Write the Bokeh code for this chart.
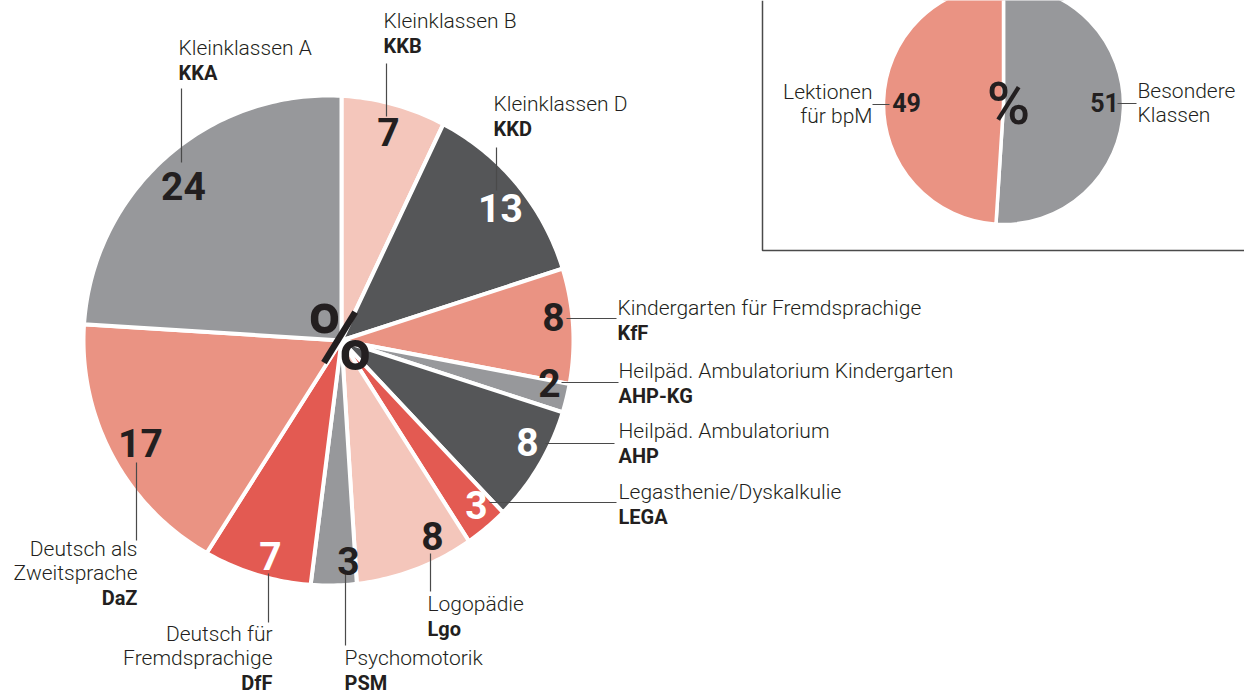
import math
from bokeh.plotting import figure
from bokeh.models import ColumnDataSource, Range1d
from bokeh.core.properties import value
from bokeh.embed import file_html
from bokeh.resources import INLINE

# ---------------- data ----------------
codes = ["KKB", "KKD", "KfF", "AHP-KG", "AHP", "LEGA", "Lgo", "PSM", "DfF", "DaZ", "KKA"]
names = [
    ["Kleinklassen B"],
    ["Kleinklassen D"],
    ["Kindergarten für Fremdsprachige"],
    ["Heilpäd. Ambulatorium Kindergarten"],
    ["Heilpäd. Ambulatorium"],
    ["Legasthenie/Dyskalkulie"],
    ["Logopädie"],
    ["Psychomotorik"],
    ["Deutsch für", "Fremdsprachige"],
    ["Deutsch als", "Zweitsprache"],
    ["Kleinklassen A"],
]
shares = [7, 13, 8, 2, 8, 3, 8, 3, 7, 17, 24]

inset_names = [["Besondere", "Klassen"], ["Lektionen", "für bpM"]]
inset_shares = [51, 49]

# ---------------- styles ----------------
GRAY = "#97989b"
DARK = "#555658"
PINK = "#f4c6bb"
SALMON = "#ea9383"
RED = "#e35a52"
INK = "#231f20"
LEADER = "#4a4a4a"

slice_colors = [PINK, DARK, SALMON, GRAY, DARK, RED, PINK, GRAY, RED, SALMON, GRAY]
number_colors = [INK, "white", INK, INK, "white", "white", INK, INK, "white", INK, INK]
inset_colors = [GRAY, SALMON]

LIGHT = value("Roboto Light")
BOLD = value("Roboto")
MED = value("Roboto Medium")

W, H = 1244, 695


def X(x):
    return x


def Y(y):
    return H - y


# label layout (page pixel positions of annotations)
num_pos = [(388, 131), (500, 207), (553, 316), (549, 382), (527, 441), (476, 504),
           (432, 535), (348, 560), (270, 555), (140, 442), (183, 185)]
# (x, first line y, align)
name_pos = [(383, 20, "left"), (493, 103, "left"), (617, 307, "left"), (618, 370, "left"),
            (618, 430, "left"), (618, 491, "left"), (427, 603, "left"), (344, 657, "left"),
            (272, 633, "right"), (137, 548, "right"), (178, 47, "left")]
leaders = [((386, 63), (386, 116)), ((496, 147), (496, 190)), ((566, 318), (616, 318)),
           ((561, 382), (618, 382)), ((545, 443), (614, 443)), ((489, 502), (616, 502)),
           ((430, 553), (430, 591)), ((345, 573), (345, 645)), ((268, 573), (268, 622)),
           ((136, 462), (136, 540)), ((181, 88), (181, 162))]

p = figure(width=W, height=H, output_backend="svg", toolbar_location=None,
           x_range=Range1d(0, W), y_range=Range1d(0, H), min_border=0,
           background_fill_color="white", border_fill_color="white")
p.axis.visible = False
p.grid.visible = False
p.outline_line_color = None

# main pie: slices radiate from an apex, outline is a circle
AX, AY = 341, 340          # apex of the slices
CX, CY, R = 328, 340, 245  # outer circle


def ray_hit(theta):
    dx, dy = math.sin(theta), -math.cos(theta)
    fx, fy = AX - CX, AY - CY
    b = fx * dx + fy * dy
    c = fx * fx + fy * fy - R * R
    t = -b + math.sqrt(b * b - c)
    return AX + t * dx, AY + t * dy


total = float(sum(shares))
xs, ys = [], []
cum = 0.0
for v in shares:
    t0 = 2 * math.pi * cum / total
    t1 = 2 * math.pi * (cum + v) / total
    n = max(4, int(v * 4))
    px, py = [X(AX)], [Y(AY)]
    for i in range(n + 1):
        hx, hy = ray_hit(t0 + (t1 - t0) * i / n)
        px.append(X(hx))
        py.append(Y(hy))
    xs.append(px)
    ys.append(py)
    cum += v

p.patches(xs="xs", ys="ys", fill_color="color", line_color="white", line_width=4,
          line_join="miter",
          source=ColumnDataSource(dict(xs=xs, ys=ys, color=slice_colors)))


def wedge_source(vals, colors):
    tot = float(sum(vals))
    starts, ends = [], []
    c = 0.0
    for v in vals:
        c0, c1 = c / tot, (c + v) / tot
        starts.append(math.pi / 2 - 2 * math.pi * c1)
        ends.append(math.pi / 2 - 2 * math.pi * c0)
        c += v
    return ColumnDataSource(dict(start=starts, end=ends, color=colors, val=vals))


# inset box
p.line([X(762), X(762), X(W)], [Y(0), Y(250), Y(250)], line_color=LEADER, line_width=1.5)

# inset pie
ICX, ICY, IR = 1003, 104, 120
isrc = wedge_source(inset_shares, inset_colors)
p.wedge(x=X(ICX), y=Y(ICY), radius=IR, start_angle="start", end_angle="end",
        direction="anticlock", fill_color="color", line_color="white", line_width=3.5,
        source=isrc)

# leader lines
for (a, b) in leaders:
    p.line([X(a[0]), X(b[0])], [Y(a[1]), Y(b[1])], line_color=LEADER, line_width=1.2)

# numbers
p.text(x=[X(q[0]) for q in num_pos], y=[Y(q[1]) for q in num_pos],
       text=[str(v) for v in shares], text_color=number_colors,
       text_font=BOLD, text_font_style="bold", text_font_size="39px",
       text_align="center", text_baseline="middle")

# names + codes
LINE = 24
for lines, code, (x, y0, al) in zip(names, codes, name_pos):
    yy = [y0 + i * LINE for i in range(len(lines))]
    p.text(x=[X(x)] * len(lines), y=[Y(v) for v in yy], text=lines, text_color=INK,
           text_font=LIGHT, text_font_size="21px", text_align=al, text_baseline="middle")
    p.text(x=[X(x)], y=[Y(y0 + len(lines) * LINE + 1)], text=[code], text_color=INK,
           text_font=BOLD, text_font_style="bold", text_font_size="20px",
           text_align=al, text_baseline="middle")

# centre percent signs
p.text(x=[X(339)], y=[Y(338)], text=["%"], text_color=INK, text_font=MED,
       text_font_size="90px", text_align="center", text_baseline="middle")
p.text(x=[X(1008)], y=[Y(103)], text=["%"], text_color=INK, text_font=MED,
       text_font_size="59px", text_align="center", text_baseline="middle")

# inset numbers and labels
p.text(x=[X(1104), X(906)], y=[Y(102), Y(102)], text=[str(v) for v in inset_shares],
       text_color=INK, text_font=BOLD, text_font_style="bold", text_font_size="25px",
       text_align="center", text_baseline="middle")
p.line([X(1117), X(1136)], [Y(103), Y(103)], line_color=LEADER, line_width=1.2)
p.line([X(872), X(889)], [Y(104), Y(104)], line_color=LEADER, line_width=1.2)
p.text(x=[X(1137)] * 2, y=[Y(90), Y(114)], text=inset_names[0], text_color=INK,
       text_font=LIGHT, text_font_size="21px", text_align="left", text_baseline="middle")
p.text(x=[X(872)] * 2, y=[Y(91), Y(115)], text=inset_names[1], text_color=INK,
       text_font=LIGHT, text_font_size="21px", text_align="right", text_baseline="middle")

open("out.html", "w").write(file_html(p, INLINE))
